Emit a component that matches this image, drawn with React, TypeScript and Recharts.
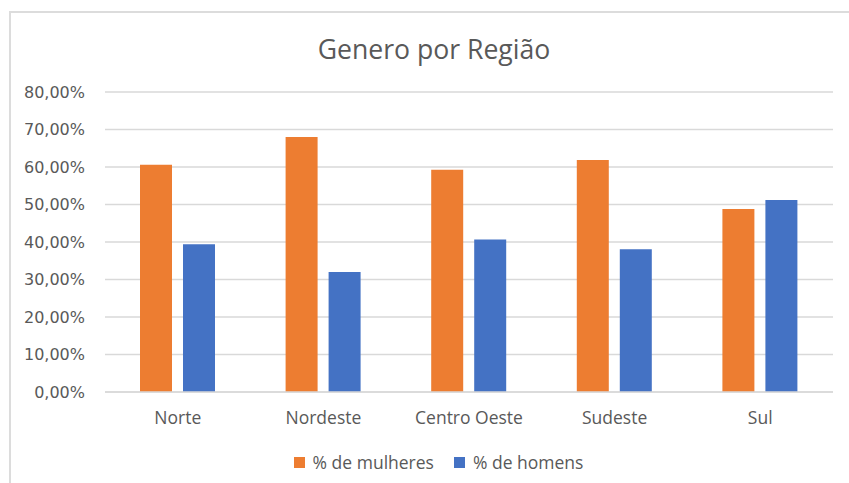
import React from "react";
import { BarChart, Bar, XAxis, YAxis, CartesianGrid, Legend } from "recharts";

const categories = ["Norte", "Nordeste", "Centro Oeste", "Sudeste", "Sul"];
const mulheres = [0.606, 0.68, 0.593, 0.619, 0.488];
const homens = [0.394, 0.32, 0.407, 0.381, 0.512];
const yTicks = [0, 0.1, 0.2, 0.3, 0.4, 0.5, 0.6, 0.7, 0.8];
const seriesNames = ["% de mulheres", "% de homens"];
const colors = ["#ED7D31", "#4472C4"];

const data = categories.map((c, i) => ({ name: c, m: mulheres[i], h: homens[i] }));

const FONT = "'Open Sans', 'Noto Sans', sans-serif";
const fmt = (v: number) => (v * 100).toFixed(2).replace(".", ",") + "%";

const LegendContent = () => (
  <div
    style={{
      display: "flex",
      justifyContent: "center",
      alignItems: "center",
      fontFamily: FONT,
      fontSize: 17.5,
      color: "#595959",
      width: "100%",
      paddingLeft: 28,
      boxSizing: "border-box",
      lineHeight: "22px",
    }}
  >
    {seriesNames.map((n, i) => (
      <div key={n} style={{ display: "flex", alignItems: "center", marginLeft: i === 0 ? 0 : 20 }}>
        <div style={{ width: 11, height: 11, background: colors[i], marginRight: 8 }} />
        <span>{n}</span>
      </div>
    ))}
  </div>
);

export default function App() {
  return (
    <div style={{ position: "absolute", left: 0, top: 0, width: 849, height: 483, background: "#fff", overflow: "hidden" }}>
      <div
        style={{
          position: "absolute",
          left: 9,
          top: 11,
          width: 900,
          height: 500,
          borderLeft: "2px solid #dcdcdc",
          borderTop: "2px solid #dcdcdc",
        }}
      />
      <svg style={{ position: "absolute", left: 0, top: 0 }} width={849} height={80}>
        <text x={434} y={59} textAnchor="middle" fontFamily={FONT} fontSize={26.6} fill="#595959">
          Genero por Região
        </text>
      </svg>
      <div style={{ position: "absolute", left: 0, top: 0 }}>
        <BarChart
          width={849}
          height={483}
          data={data}
          margin={{ top: 92, right: 16, left: 0, bottom: 0 }}
          barSize={32}
          barGap={11}
        >
          <CartesianGrid vertical={false} stroke="#d9d9d9" strokeWidth={1.3} />
          <XAxis
            dataKey="name"
            height={91}
            tickLine={false}
            axisLine={{ stroke: "#d9d9d9", strokeWidth: 1.3 }}
            tickSize={0}
            tickMargin={20}
            tick={{ fill: "#595959", fontSize: 17.5, fontFamily: FONT }}
          />
          <YAxis
            width={105}
            domain={[0, 0.8]}
            ticks={yTicks}
            tickFormatter={fmt}
            tickLine={false}
            axisLine={false}
            tickSize={0}
            tickMargin={20}
            tick={{ fill: "#595959", fontSize: 16, fontFamily: "'DejaVu Sans', sans-serif" }}
          />
          <Legend
            verticalAlign="middle"
            align="center"
            layout="horizontal"
            wrapperStyle={{ top: 451, left: 0, width: 849 }}
            content={<LegendContent />}
          />
          <Bar dataKey="m" name={seriesNames[0]} fill={colors[0]} isAnimationActive={false} />
          <Bar dataKey="h" name={seriesNames[1]} fill={colors[1]} isAnimationActive={false} />
        </BarChart>
      </div>
    </div>
  );
}
